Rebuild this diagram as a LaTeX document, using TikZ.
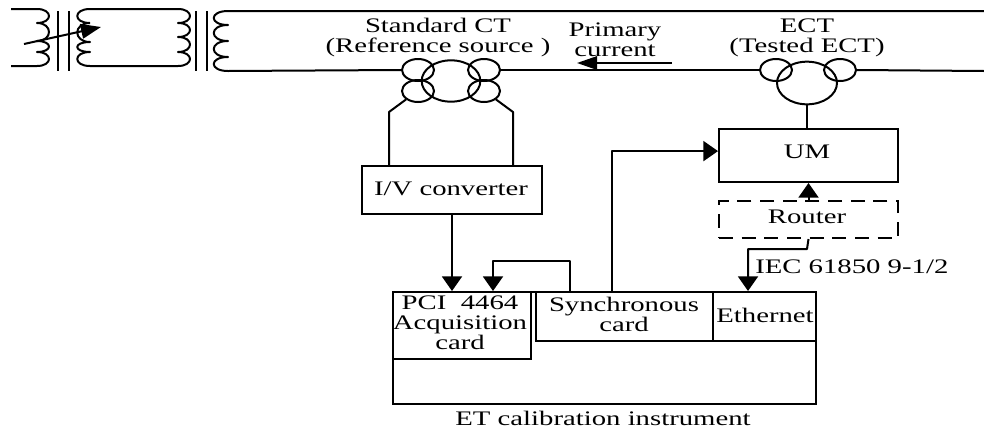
\documentclass[tikz,border=0pt]{standalone}
\usepackage{fontspec}
\setmainfont[FakeStretch=1.39]{Liberation Serif}
\usetikzlibrary{arrows.meta,calc,shapes.geometric}
\tikzset{
  wire/.style={line width=1.5pt,line join=round},
  boxed/.style={draw,line width=1.5pt,inner sep=0pt,anchor=north west},
  smallloop/.style={draw,line width=1.5pt,ellipse,inner sep=0pt,minimum width=24pt,minimum height=16.5pt},
  coreloop/.style={draw,line width=1.5pt,ellipse,inner sep=0pt,minimum width=44pt,minimum height=31pt},
  flow/.style={wire,-{Triangle[length=11pt,width=15pt]}},
  label/.style={inner sep=0pt,align=center,font=\fontsize{15.5}{15}\selectfont},
}
% bump from (x,y1) to (x,y2), bulging by d
\newcommand{\bump}[4]{.. controls (#1+#4,#2) and (#1+#4,#3) .. (#1,#3)}
\begin{document}
\begin{tikzpicture}[x=0.75pt,y=-0.75pt]
\useasboundingbox (0,0) rectangle (984,429);
% source coils
\draw[wire] (11,9) -- (37,9) \bump{37}{9}{23}{16} \bump{37}{23}{41}{16} \bump{37}{41}{52}{16} \bump{37}{52}{66}{16} -- (11,66);
\draw[wire] (58,11) -- (58,71) (69,11) -- (69,71);
\draw[wire] (90,23) \bump{90}{23}{9}{-17} -- (178,9) \bump{178}{9}{23}{16} \bump{178}{23}{37}{16} \bump{178}{37}{52}{16} \bump{178}{52}{66}{16} -- (90,66) \bump{90}{66}{52}{-17} \bump{90}{52}{42}{-17} \bump{90}{42}{23}{-17};
\draw[wire] (196,11) -- (196,71) (207,11) -- (207,71);
\draw[wire] (984,11) -- (228,11) \bump{228}{11}{25}{-19} \bump{228}{25}{41}{-19} \bump{228}{41}{57}{-19} \bump{228}{57}{71}{-19};
\coordinate (tapA) at (24,44);
\coordinate (tapB) at (101,27);
\draw[wire,-{Triangle[length=15pt,width=11pt]}] (tapA) -- (tapB);
% current transformers
\node[smallloop] (ulA) at (418,70) {};
\node[smallloop] (llA) at (418,91) {};
\node[smallloop] (urA) at (484,70) {};
\node[smallloop] (lrA) at (484,91) {};
\node[coreloop] (coreA) at (451,81) {};
\node[smallloop] (ulB) at (776,70) {};
\node[smallloop] (urB) at (840,70) {};
\node[coreloop,minimum width=45pt,minimum height=32pt] (coreB) at (807,83) {};
\draw[wire] (228,71) -- (ulA.west);
\draw[wire] (urA.east) -- (ulB.west);
\draw[wire] (urB.east) -- (984,71);
% boxes
\node[boxed,minimum width=135pt,minimum height=36pt] (conv) at (361,165) {};
\node[boxed,minimum width=134.25pt,minimum height=39.75pt] (um) at (718,128) {};
\node[boxed,dashed,dash pattern=on 10.5pt off 6.5pt,minimum width=134.25pt,minimum height=27.75pt] (router) at (718,200) {};
\node[boxed,minimum width=317.25pt,minimum height=84pt] (inst) at (392,291) {};
\node[boxed,minimum width=103.5pt,minimum height=50.25pt] (pci) at (392,291) {};
\node[boxed,minimum width=132.75pt,minimum height=36.75pt] (sync) at (535,291) {};
\node[boxed,minimum width=77.25pt,minimum height=36.75pt] (eth) at (712,291) {};
% connectors
\coordinate (legL) at (389,112);
\coordinate (legR) at (513,112);
\draw[wire] (llA.south west) -- (legL) -- (legL |- conv.north);
\draw[wire] (lrA.south east) -- (legR) -- (legR |- conv.north);
\draw[wire] (coreB.south) -- (um.north -| coreB.south);
\draw[flow] (conv.south) -- (conv.south |- pci.north);
\coordinate (loopS) at (570,291);
\coordinate (loopT) at (493,291);
\draw[flow] (loopS) -- (570,261) -- (493,261) -- (loopT);
\coordinate (umS) at (612,291);
\draw[flow] (umS) |- ($(um.north west)!0.42!(um.south west)$);
\draw[flow] (router.north) -- (um.south);
\coordinate (ethT) at (748,291);
\draw[flow] (router.south) -- (807,249) -- (748,249) -- (ethT);
% primary current arrow
\coordinate (curR) at (672,63);
\coordinate (curL) at (577,63);
\draw[wire,-{Triangle[length=15pt,width=10pt]}] (curR) -- (curL);
% labels
\node[label] (tCT) at (438,38) {Standard CT\\(Reference source )};
\node[label] (tPrim) at (615,40) {Primary\\current};
\node[label] (tECT) at (807,38) {ECT\\(Tested ECT)};
\node[label] (tConv) at (451,189) {I/V converter};
\node[label] (tUM) at (807,152) {UM};
\node[label] (tRouter) at (807,217) {Router};
\node[label,anchor=west] (tIEC) at (755,267) {IEC 61850 9-1/2};
\node[label] (tPCI) at (460,323) {PCI\ \ 4464\\Acquisition\\card};
\node[label] (tSync) at (624,314) {Synchronous\\card};
\node[label] (tEth) at (765,315) {Ethernet};
\node[label] (tET) at (603,418) {ET calibration instrument};
\end{tikzpicture}
\end{document}
